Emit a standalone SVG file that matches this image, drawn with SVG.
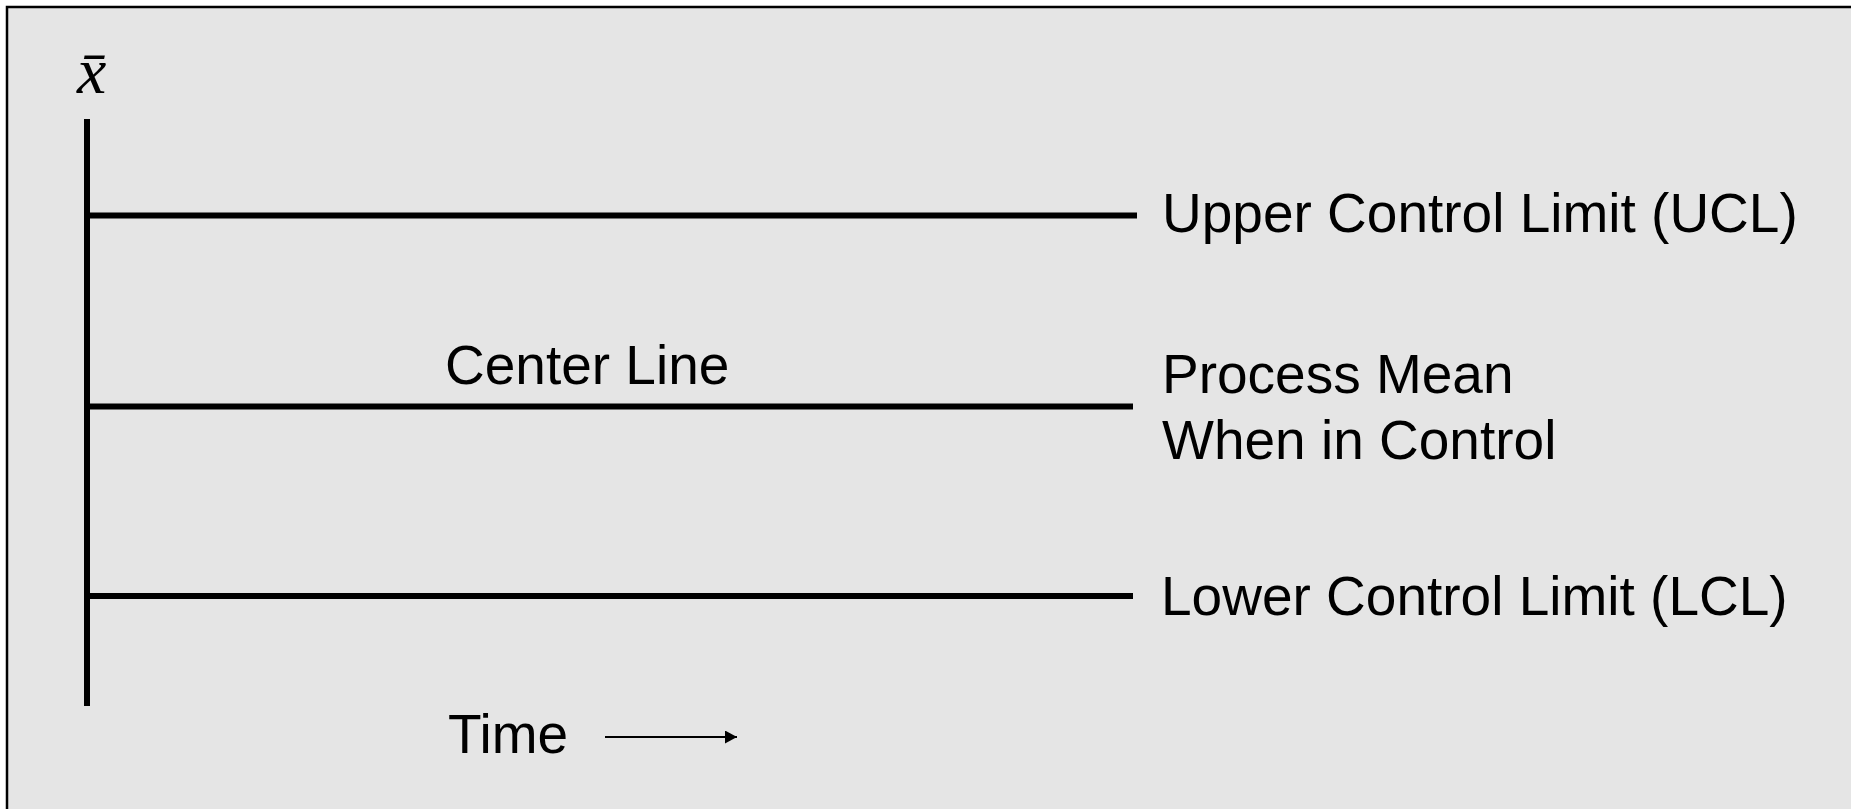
<svg xmlns="http://www.w3.org/2000/svg" width="1851" height="809" viewBox="0 0 1851 809">
<style>
.lbl{font-family:"Liberation Sans",Arial,sans-serif;font-size:55px;fill:#000}
.ln{stroke:#000;stroke-width:6;fill:none}
</style>
<defs>
<marker id="ah" markerWidth="12" markerHeight="13" refX="12" refY="6.5" orient="auto" markerUnits="userSpaceOnUse">
<path d="M0,0 L12,6.5 L0,13 Z" fill="#000"/>
</marker>
</defs>
<rect x="0" y="0" width="1851" height="809" fill="#fff"/>
<rect id="frame" x="7" y="7" width="1900" height="900" fill="#e5e5e5" stroke="#000" stroke-width="2.5"/>
<g id="axis">
<line class="ln" x1="87" y1="119" x2="87" y2="706"/>
<text x="77" y="93" font-family="'Liberation Serif',serif" font-style="italic" font-size="66">x̄</text>
</g>
<g id="ucl">
<line class="ln" x1="87" y1="215.5" x2="1137" y2="215.5"/>
<text class="lbl" x="1162" y="232">Upper Control Limit (UCL)</text>
</g>
<g id="center">
<line class="ln" x1="87" y1="406.5" x2="1133" y2="406.5"/>
<text class="lbl" x="445" y="384">Center Line</text>
<text class="lbl" x="1162" y="393">Process Mean</text>
<text class="lbl" x="1162" y="459">When in Control</text>
</g>
<g id="lcl">
<line class="ln" x1="87" y1="596" x2="1133" y2="596"/>
<text class="lbl" x="1161" y="615">Lower Control Limit (LCL)</text>
</g>
<g id="time">
<text class="lbl" x="448" y="753">Time</text>
</g>
<g id="connectors">
<line x1="605" y1="737" x2="737" y2="737" stroke="#000" stroke-width="2" marker-end="url(#ah)"/>
</g>
</svg>
